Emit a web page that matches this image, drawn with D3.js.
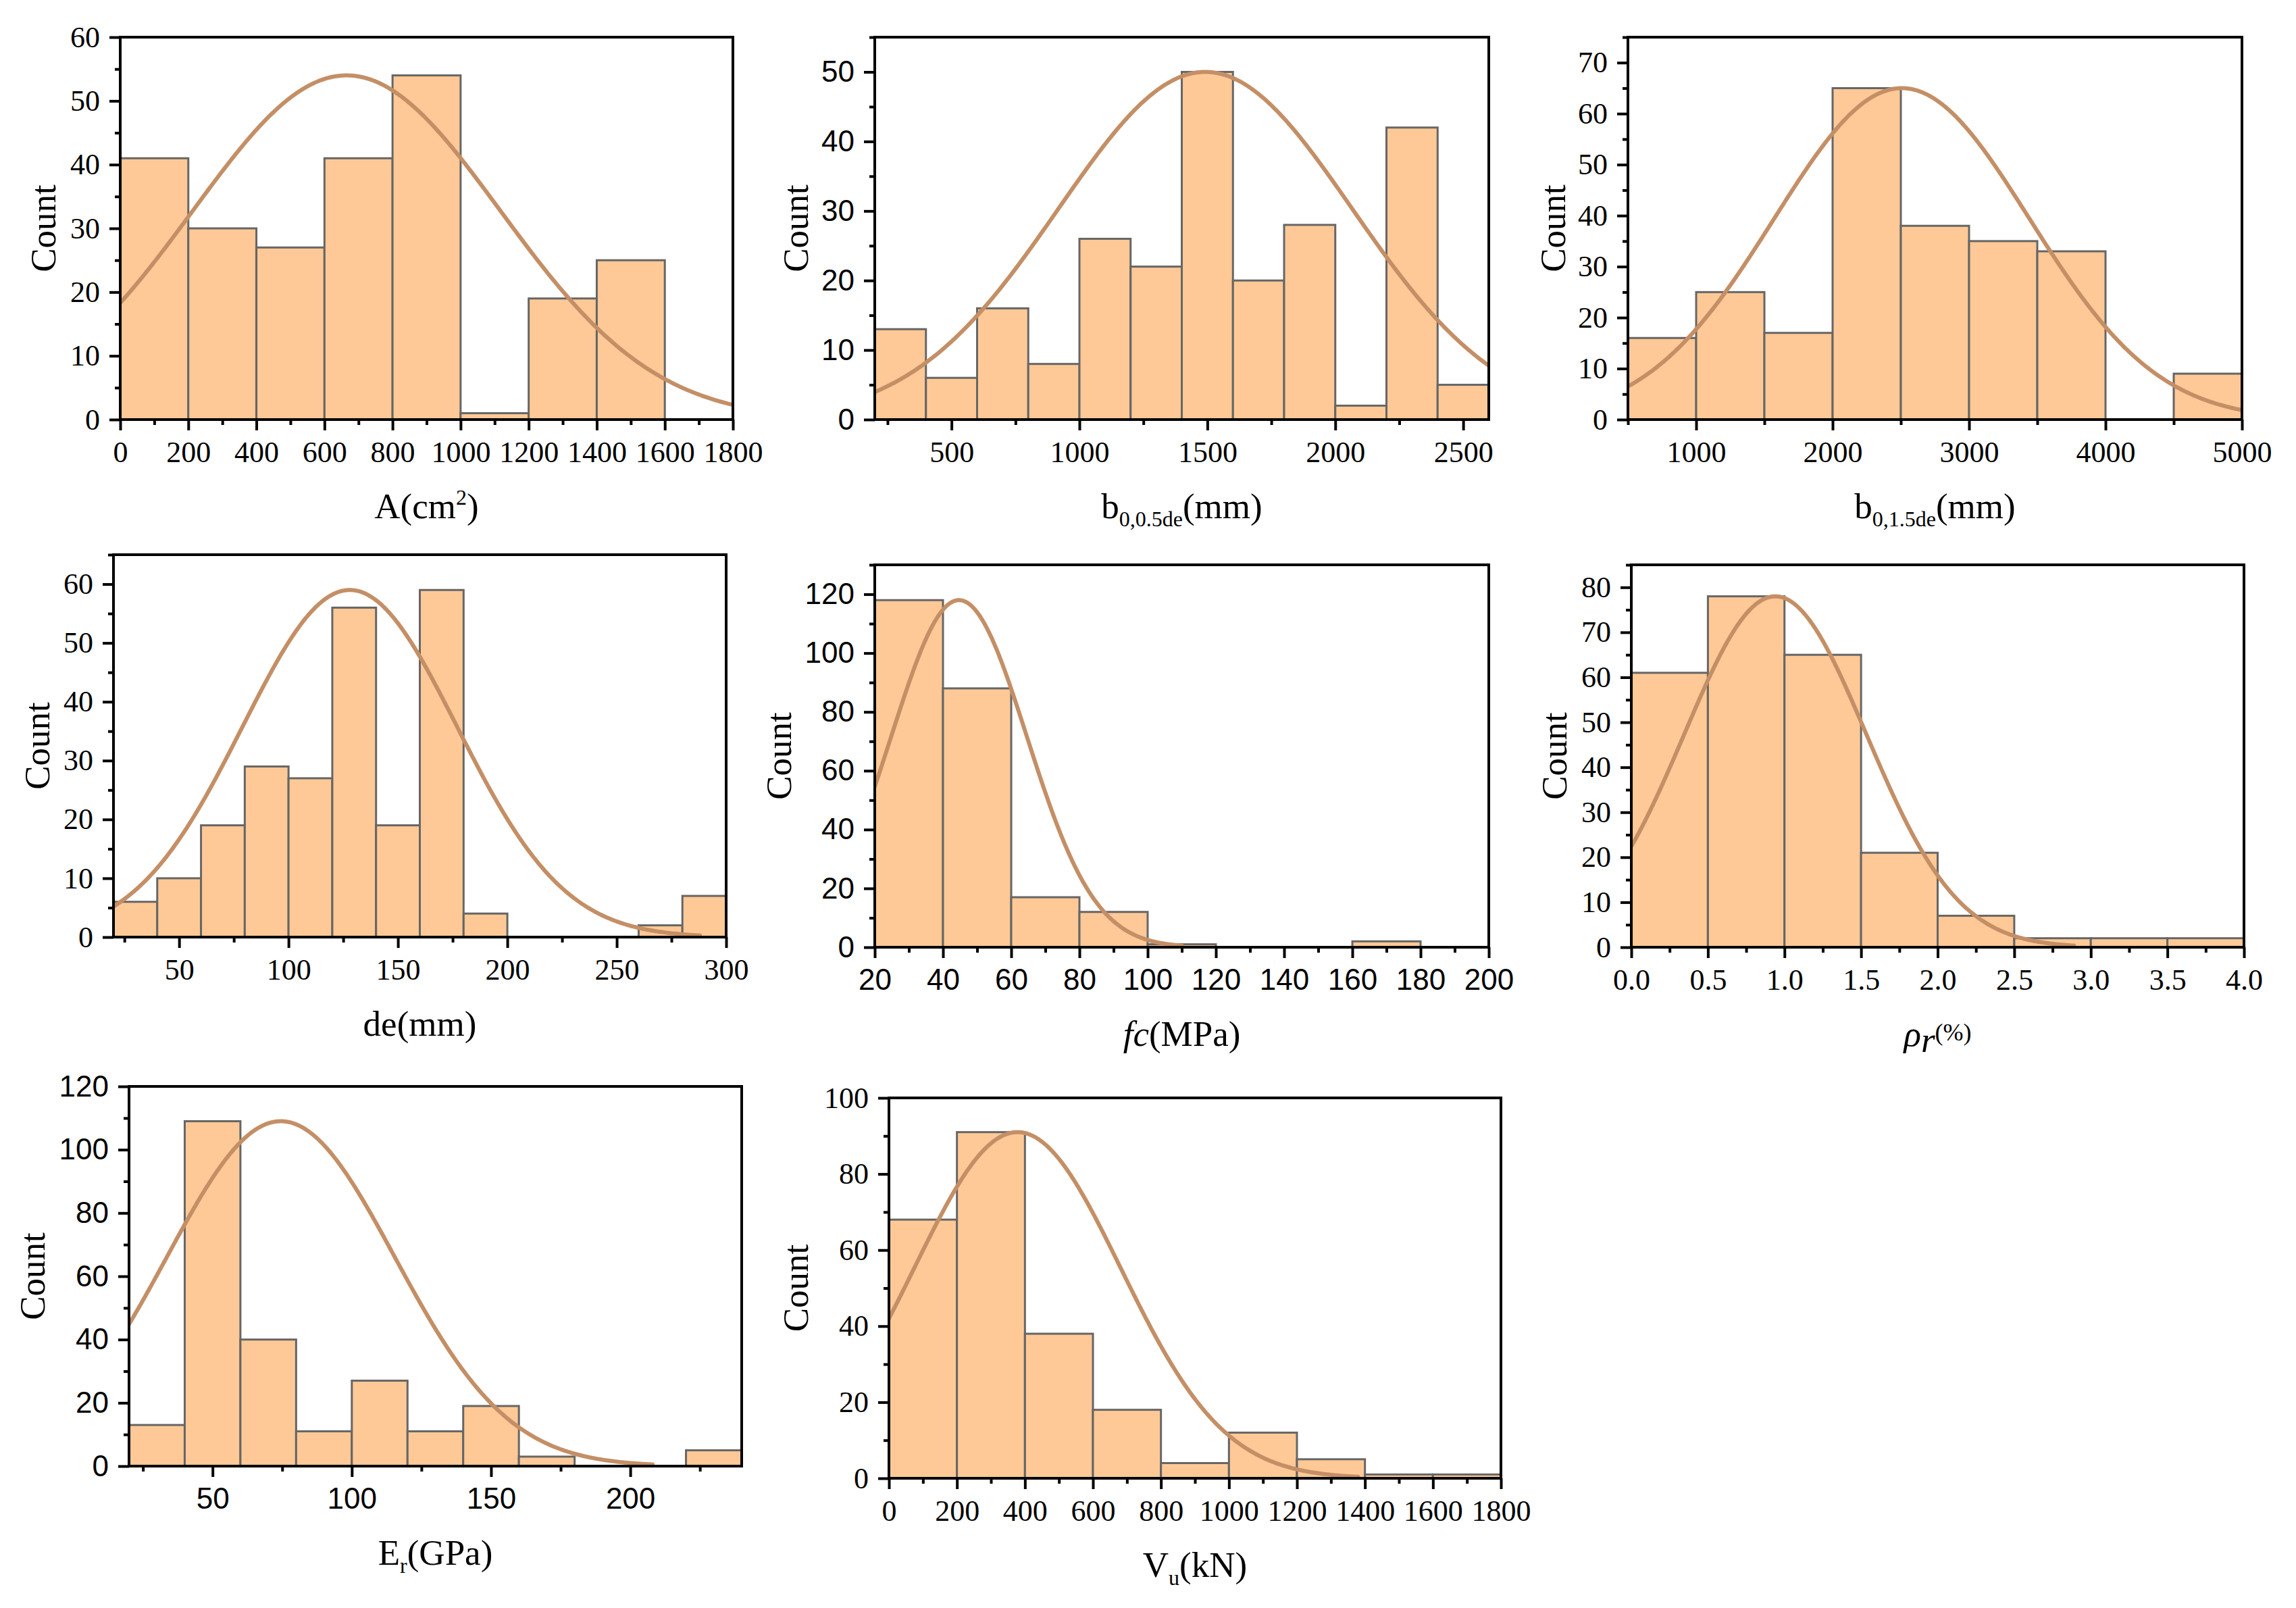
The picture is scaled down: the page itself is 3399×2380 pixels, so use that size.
<!DOCTYPE html>
<html><head><meta charset="utf-8">
<script src="https://cdn.jsdelivr.net/npm/d3@7/dist/d3.min.js"></script>
<style>body{margin:0;background:#fff}</style>
</head><body>
<svg id="chart" width="3399" height="2380" xmlns="http://www.w3.org/2000/svg"></svg>
<script>
// ---------------- DATA ----------------
// Panel A (cm^2)
const aEdges  = [0,200,400,600,800,1000,1200,1400,1600,1800];
const aCounts = [41,30,27,41,54,1,19,25,0];
const aFit    = [665, 452, 54];            // mean, sd, peak count
const aFitRange = [0, 1800];
const aXTicks = [0,200,400,600,800,1000,1200,1400,1600,1800];
const aYTicks = [0,10,20,30,40,50,60];

// Panel b0,0.5de (mm)
const b05Edges  = [200,400,600,800,1000,1200,1400,1600,1800,2000,2200,2400,2600];
const b05Counts = [13,6,16,8,26,22,50,20,28,2,42,5];
const b05Fit    = [1492, 574, 50];
const b05FitRange = [200, 2600];
const b05XTicks = [500,1000,1500,2000,2500];
const b05YTicks = [0,10,20,30,40,50];

// Panel b0,1.5de (mm)
const b15Edges  = [500,1000,1500,2000,2500,3000,3500,4000,4500,5000];
const b15Counts = [16,25,17,65,38,35,33,0,9];
const b15Fit    = [2507, 935, 65];
const b15FitRange = [500, 5000];
const b15XTicks = [1000,2000,3000,4000,5000];
const b15YTicks = [0,10,20,30,40,50,60,70];

// Panel de (mm)
const deEdges  = [20,40,60,80,100,120,140,160,180,200,220,240,260,280,300];
const deCounts = [6,10,19,29,27,56,19,59,4,0,0,0,2,7];
const deFit    = [128, 49, 59];
const deFitRange = [20, 288];
const deXTicks = [50,100,150,200,250,300];
const deYTicks = [0,10,20,30,40,50,60];

// Panel fc (MPa)
const fcEdges  = [20,40,60,80,100,120,140,160,180,200];
const fcCounts = [118,88,17,12,1,0,0,2,0];
const fcFit    = [44.7, 19.9, 118];
const fcFitRange = [20, 110];
const fcXTicks = [20,40,60,80,100,120,140,160,180,200];
const fcYTicks = [0,20,40,60,80,100,120];

// Panel rho_r (%)
const rhoEdges  = [0,0.5,1.0,1.5,2.0,2.5,3.0,3.5,4.0];
const rhoCounts = [61,78,65,21,7,2,2,2];
const rhoFit    = [0.94, 0.595, 78];
const rhoFitRange = [0, 2.89];
const rhoXTicks = [0,0.5,1.0,1.5,2.0,2.5,3.0,3.5,4.0];
const rhoYTicks = [0,10,20,30,40,50,60,70,80];

// Panel Er (GPa)
const erEdges  = [20,40,60,80,100,120,140,160,180,200,220,240];
const erCounts = [13,109,40,11,27,11,19,3,0,0,5];
const erFit    = [74.5, 40.9, 109];
const erFitRange = [20, 208];
const erXTicks = [50,100,150,200];
const erYTicks = [0,20,40,60,80,100,120];

// Panel Vu (kN)
const vuEdges  = [0,200,400,600,800,1000,1200,1400,1600,1800];
const vuCounts = [68,91,38,18,4,12,5,1,1];
const vuFit    = [378, 304, 91];
const vuFitRange = [0, 1380];
const vuXTicks = [0,200,400,600,800,1000,1200,1400,1600,1800];
const vuYTicks = [0,20,40,60,80,100];

// ---------------- LAYOUT / STYLE ----------------
const SERIF = "'Liberation Serif','Times New Roman',serif";
const SANS  = "'Liberation Sans',Arial,sans-serif";
const BAR_FILL = "#FEC996", BAR_STROKE = "#666666", CURVE = "#C48F66";

const panels = [
  {edges:aEdges, counts:aCounts, fit:aFit, fitRange:aFitRange, xt:aXTicks, yt:aYTicks,
   box:[178,55,1085,621], xd:[0,1800], yd:[0,60], xf:SERIF, yf:SERIF, cOff:96, fmt:d=>d,
   title:[{t:"A(cm"},{t:"2",size:32,shift:-20},{t:")"}]},
  {edges:b05Edges, counts:b05Counts, fit:b05Fit, fitRange:b05FitRange, xt:b05XTicks, yt:b05YTicks,
   box:[1295,55,2204,621], xd:[200,2600], yd:[0,55], xf:SERIF, yf:SANS, cOff:99, fmt:d=>d,
   title:[{t:"b"},{t:"0,0.5de",size:32,shift:12},{t:"(mm)"}]},
  {edges:b15Edges, counts:b15Counts, fit:b15Fit, fitRange:b15FitRange, xt:b15XTicks, yt:b15YTicks,
   box:[2410,55,3319,621], xd:[500,5000], yd:[0,75], xf:SERIF, yf:SERIF, cOff:93, fmt:d=>d,
   title:[{t:"b"},{t:"0,1.5de",size:32,shift:12},{t:"(mm)"}]},
  {edges:deEdges, counts:deCounts, fit:deFit, fitRange:deFitRange, xt:deXTicks, yt:deYTicks,
   box:[168,821,1075,1387], xd:[20,300], yd:[0,65], xf:SERIF, yf:SERIF, cOff:95, fmt:d=>d,
   title:[{t:"de(mm)"}]},
  {edges:fcEdges, counts:fcCounts, fit:fcFit, fitRange:fcFitRange, xt:fcXTicks, yt:fcYTicks,
   box:[1295,836,2204,1402], xd:[20,200], yd:[0,130], xf:SANS, yf:SANS, cOff:124, fmt:d=>d,
   title:[{t:"fc",italic:true},{t:"(MPa)"}]},
  {edges:rhoEdges, counts:rhoCounts, fit:rhoFit, fitRange:rhoFitRange, xt:rhoXTicks, yt:rhoYTicks,
   box:[2415,836,3322,1402], xd:[0,4], yd:[0,85], xf:SERIF, yf:SERIF, cOff:96, fmt:d3.format(".1f"),
   title:[{t:"\u03C1",italic:true},{t:"r",italic:true,shift:9},{t:"(%)",size:36,shift:-8}]},
  {edges:erEdges, counts:erCounts, fit:erFit, fitRange:erFitRange, xt:erXTicks, yt:erYTicks,
   box:[191,1608,1098,2170], xd:[20,240], yd:[0,120], xf:SANS, yf:SANS, cOff:125, fmt:d=>d,
   title:[{t:"E"},{t:"r",size:32,shift:12},{t:"(GPa)"}]},
  {edges:vuEdges, counts:vuCounts, fit:vuFit, fitRange:vuFitRange, xt:vuXTicks, yt:vuYTicks,
   box:[1316,1625,2222,2188], xd:[0,1800], yd:[0,100], xf:SERIF, yf:SERIF, cOff:120, fmt:d=>d,
   title:[{t:"V"},{t:"u",size:32,shift:12},{t:"(kN)"}]}
];

const svg = d3.select("#chart");
svg.append("rect").attr("width",3399).attr("height",2380).attr("fill","#fff");

function minorTicks(major, dom){
  const step = (major[1]-major[0])/2;
  const out = [];
  const start = Math.ceil((dom[0]-1e-9)/step);
  for(let k=start; k*step<=dom[1]+1e-9; k++){
    const v = +(k*step).toFixed(6);
    if(!major.some(m=>Math.abs(m-v)<1e-9)) out.push(v);
  }
  return out;
}

function rich(sel, segs, base){
  let shift = 0;
  segs.forEach(s=>{
    const ts = sel.append("tspan").text(s.t);
    const target = s.shift||0;
    ts.attr("dy", target-shift); shift = target;
    ts.attr("font-size", s.size||base);
    if(s.italic) ts.attr("font-style","italic");
  });
}

panels.forEach((p,i)=>{
  const [x0,y0,x1,y1] = p.box;
  const x = d3.scaleLinear().domain(p.xd).range([x0,x1]);
  const y = d3.scaleLinear().domain(p.yd).range([y1,y0]);
  const g = svg.append("g");
  const clipId = "clip"+i;
  svg.append("clipPath").attr("id",clipId).append("rect")
     .attr("x",x0).attr("y",y0).attr("width",x1-x0).attr("height",y1-y0);

  // bars
  const bins = p.counts.map((c,j)=>({a:p.edges[j], b:p.edges[j+1], c}));
  g.append("g").selectAll("rect").data(bins.filter(d=>d.c>0)).join("rect")
    .attr("x",d=>x(d.a)).attr("width",d=>x(d.b)-x(d.a))
    .attr("y",d=>y(d.c)).attr("height",d=>y(0)-y(d.c))
    .attr("fill",BAR_FILL).attr("stroke",BAR_STROKE).attr("stroke-width",3);

  // fitted normal curve
  const [mu,sd,pk] = p.fit;
  const [lo,hi] = p.fitRange;
  const pts = d3.range(0,401).map(k=>{
    const xv = lo + (hi-lo)*k/400;
    return [xv, pk*Math.exp(-((xv-mu)*(xv-mu))/(2*sd*sd))];
  });
  g.append("path").datum(pts).attr("clip-path",`url(#${clipId})`)
    .attr("d", d3.line().x(d=>x(d[0])).y(d=>y(d[1])))
    .attr("fill","none").attr("stroke",CURVE).attr("stroke-width",6)
    .attr("stroke-linecap","round");

  // frame
  g.append("rect").attr("x",x0).attr("y",y0).attr("width",x1-x0).attr("height",y1-y0)
    .attr("fill","none").attr("stroke","#000").attr("stroke-width",4);

  // x axis major
  const xa = g.append("g").attr("transform",`translate(0,${y1})`)
    .call(d3.axisBottom(x).tickValues(p.xt).tickFormat(p.fmt).tickSize(16).tickPadding(16).tickSizeOuter(0));
  xa.select(".domain").remove();
  xa.selectAll("line").attr("stroke","#000").attr("stroke-width",4);
  xa.selectAll("text").attr("font-family",p.xf).attr("font-size",44).attr("fill","#000");
  const xm = g.append("g").attr("transform",`translate(0,${y1})`)
    .call(d3.axisBottom(x).tickValues(minorTicks(p.xt,p.xd)).tickFormat("").tickSize(8).tickSizeOuter(0));
  xm.select(".domain").remove();
  xm.selectAll("line").attr("stroke","#000").attr("stroke-width",4);

  // y axis
  const ya = g.append("g").attr("transform",`translate(${x0},0)`)
    .call(d3.axisLeft(y).tickValues(p.yt).tickSize(16).tickPadding(14).tickSizeOuter(0));
  ya.select(".domain").remove();
  ya.selectAll("line").attr("stroke","#000").attr("stroke-width",4);
  ya.selectAll("text").attr("font-family",p.yf).attr("font-size",44).attr("fill","#000");
  const ym = g.append("g").attr("transform",`translate(${x0},0)`)
    .call(d3.axisLeft(y).tickValues(minorTicks(p.yt,p.yd)).tickFormat("").tickSize(8).tickSizeOuter(0));
  ym.select(".domain").remove();
  ym.selectAll("line").attr("stroke","#000").attr("stroke-width",4);

  // y title
  g.append("text").attr("transform",`translate(${x0-p.cOff},${(y0+y1)/2}) rotate(-90)`)
    .attr("text-anchor","middle").attr("font-family",SERIF).attr("font-size",53)
    .attr("fill","#000").text("Count");

  // x title
  const t = g.append("text").attr("x",(x0+x1)/2).attr("y",y1+146)
    .attr("text-anchor","middle").attr("font-family",SERIF).attr("font-size",53).attr("fill","#000");
  rich(t, p.title, 53);
});
</script>
</body></html>
